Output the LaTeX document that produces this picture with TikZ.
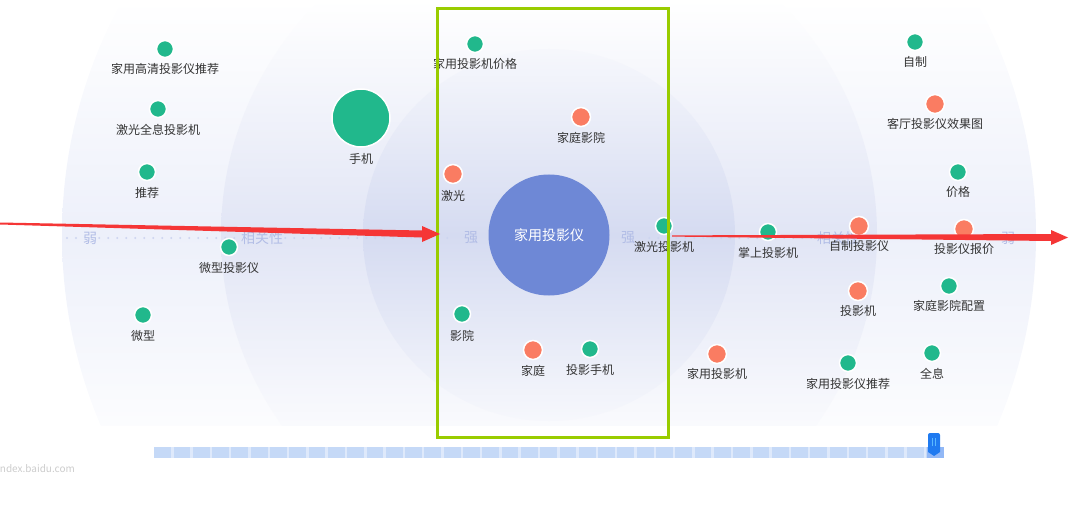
\documentclass[tikz,border=0pt]{standalone}
\usepackage{fontspec}
\setmainfont{Noto Sans CJK SC}
\usetikzlibrary{calc}
\definecolor{kwgreen}{RGB}{33,184,140}
\definecolor{kworange}{RGB}{250,124,98}
\definecolor{hubblue}{RGB}{110,136,214}
\definecolor{bandA}{RGB}{237,240,250}
\definecolor{bandB}{RGB}{225,229,245}
\definecolor{bandC}{RGB}{213,219,241}
\definecolor{axisdot}{RGB}{205,213,240}
\definecolor{axistxt}{RGB}{178,189,230}
\definecolor{boxgreen}{RGB}{153,204,0}
\definecolor{arrowred}{RGB}{245,54,54}
\definecolor{slidebar}{RGB}{197,217,247}
\definecolor{slidetick}{RGB}{222,233,251}
\definecolor{slidedark}{RGB}{146,184,246}
\definecolor{handleblue}{RGB}{31,122,240}
\definecolor{gripblue}{RGB}{90,185,255}
\definecolor{txt}{RGB}{51,51,51}
\begin{document}
\begin{tikzpicture}[x=1pt, y=-1pt, every node/.style={font=\fontsize{12}{14}\selectfont, text=txt},
  gdot/.style={circle, fill=kwgreen, draw=white, line width=1.5pt, minimum size=17pt, inner sep=0pt},
  odot/.style={circle, fill=kworange, draw=white, line width=1.5pt, minimum size=19pt, inner sep=0pt},
  lbl/.style={inner sep=0pt},
  axlbl/.style={inner sep=2pt, text=axistxt, font=\fontsize{14}{16}\selectfont},
  axisdots/.style={draw=axisdot, line width=2.2pt, line cap=round, dash pattern=on 0pt off 9pt}]
\useasboundingbox (0,0) rectangle (1085,516);
% background rings
\begin{scope}
\clip (0,0) rectangle (1085,425);
\begin{scope}
\clip (549,235) circle (487pt);
\shade[top color=white, bottom color=white, middle color=bandA] (0,0) rectangle (1085,470);
\end{scope}
\begin{scope}
\clip (549,235) circle (328pt);
\shade[top color=white, bottom color=white, middle color=bandB] (0,0) rectangle (1085,470);
\end{scope}
\begin{scope}
\clip (549,235) circle (186pt);
\shade[top color=white, bottom color=white, middle color=bandC] (0,0) rectangle (1085,470);
\end{scope}
\end{scope}
% relevance axis
\coordinate (ax0) at (67,238);
\coordinate (ax9) at (1033,238);
\node[axlbl] (wk1) at (90,238) {弱};
\node[axlbl] (rel1) at (262,238) {相关性};
\node[axlbl] (st1) at (471,238) {强};
\node[axlbl] (st2) at (628,238) {强};
\node[axlbl] (rel2) at (838,238) {相关性};
\node[axlbl] (wk2) at (1008,238) {弱};
\draw[axisdots] (ax0) -- (wk1.west);
\draw[axisdots] (wk1.east) -- (rel1.west);
\draw[axisdots] (rel1.east) -- ($(st1.west)+(-10,0)$);
\draw[axisdots] ($(st2.east)+(12,0)$) -- (rel2.west);
\draw[axisdots] (rel2.east) -- (wk2.west);
\draw[axisdots] (wk2.east) -- (ax9);
% hub
\node[circle, fill=hubblue, minimum size=121pt, inner sep=0pt, text=white, font=\fontsize{14}{16}\selectfont] (hub) at (549,235) {家用投影仪};
% keywords, left ring
\node[gdot] (k1) at (165,49) {};
\node[lbl] (k1l) at (165,69) {家用高清投影仪推荐};
\node[gdot] (k2) at (158,109) {};
\node[lbl] (k2l) at (158,130) {激光全息投影机};
\node[gdot] (k3) at (147,172) {};
\node[lbl] (k3l) at (147,193) {推荐};
\node[gdot, minimum size=58pt] (k4) at (361,118) {};
\node[lbl] (k4l) at (361,159) {手机};
\node[gdot] (k5) at (229,247) {};
\node[lbl] (k5l) at (229,268) {微型投影仪};
\node[gdot] (k6) at (143,315) {};
\node[lbl] (k6l) at (143,336) {微型};
% keywords, centre
\node[gdot] (k7) at (475,44) {};
\node[lbl] (k7l) at (475,64) {家用投影机价格};
\node[odot] (k8) at (581,117) {};
\node[lbl] (k8l) at (581,138) {家庭影院};
\node[odot] (k9) at (453,174) {};
\node[lbl] (k9l) at (453,196) {激光};
\node[gdot] (k10) at (664,226) {};
\node[lbl] (k10l) at (664,247) {激光投影机};
\node[gdot] (k11) at (462,314) {};
\node[lbl] (k11l) at (462,336) {影院};
\node[odot] (k12) at (533,350) {};
\node[lbl] (k12l) at (533,371) {家庭};
\node[gdot] (k13) at (590,349) {};
\node[lbl] (k13l) at (590,370) {投影手机};
% keywords, right ring
\node[gdot] (k14) at (768,232) {};
\node[lbl] (k14l) at (768,253) {掌上投影机};
\node[odot] (k15) at (859,226) {};
\node[lbl] (k15l) at (859,246) {自制投影仪};
\node[odot] (k16) at (964,229) {};
\node[lbl] (k16l) at (964,249) {投影仪报价};
\node[gdot] (k17) at (915,42) {};
\node[lbl] (k17l) at (915,62) {自制};
\node[odot] (k18) at (935,104) {};
\node[lbl] (k18l) at (935,124) {客厅投影仪效果图};
\node[gdot] (k19) at (958,172) {};
\node[lbl] (k19l) at (958,192) {价格};
\node[odot] (k20) at (858,291) {};
\node[lbl] (k20l) at (858,311) {投影机};
\node[gdot] (k21) at (949,286) {};
\node[lbl] (k21l) at (949,306) {家庭影院配置};
\node[odot] (k22) at (717,354) {};
\node[lbl] (k22l) at (717,374) {家用投影机};
\node[gdot] (k23) at (848,363) {};
\node[lbl] (k23l) at (848,384) {家用投影仪推荐};
\node[gdot] (k24) at (932,353) {};
\node[lbl] (k24l) at (932,374) {全息};
% highlight frame
\node[draw=boxgreen, line width=3pt, minimum width=231pt, minimum height=428pt, inner sep=0pt] (box) at (552.5,223) {};
% red arrows
\coordinate (la) at (0,223.5);
\coordinate (lb) at (440,234);
\coordinate (ra) at (672,236);
\coordinate (rb) at (1068,237.5);
\fill[arrowred] ($(la)+(0,-1)$) -- ($(lb)+(-18,-3.5)$) -- ($(lb)+(-18,-8)$) -- (lb) -- ($(lb)+(-18,8)$) -- ($(lb)+(-18,3.5)$) -- ($(la)+(0,1)$) -- cycle;
\fill[arrowred] ($(ra)+(0,-0.6)$) -- ($(rb)+(-17,-3.5)$) -- ($(rb)+(-17,-7.5)$) -- (rb) -- ($(rb)+(-17,7.5)$) -- ($(rb)+(-17,3.5)$) -- ($(ra)+(0,0.6)$) -- cycle;
% time slider
\fill[slidebar] (154,447) rectangle (944,458);
\draw[slidetick, line width=11pt, dash pattern=on 2.5pt off 16.8pt] (171,452.5) -- (927,452.5);
\fill[slidedark] (927,447) rectangle (944,458);
\fill[handleblue] (928,452) [rounded corners=2pt] -- (928,433) -- (940,433) [sharp corners] -- (940,452) -- (934,456) -- cycle;
\draw[gripblue, line width=0.8pt] (932.5,438) -- (932.5,446) (935.5,438) -- (935.5,446);
\node[anchor=west, text=black!20, font=\fontsize{10}{11}\selectfont, inner sep=0pt] (wm) at (-3,469) {index.baidu.com};
\end{tikzpicture}
\end{document}
